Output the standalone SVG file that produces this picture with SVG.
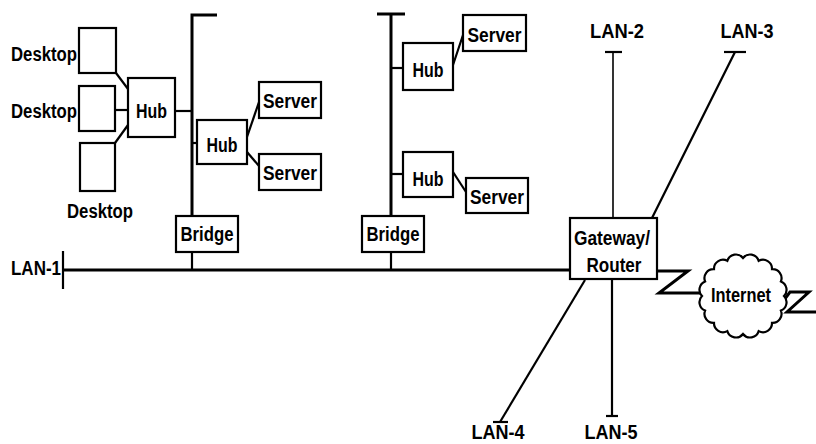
<svg xmlns="http://www.w3.org/2000/svg" width="816" height="444" viewBox="0 0 816 444">
<style>
.box{fill:#fff;stroke:#000;stroke-width:2.2}
.t{font-family:"Liberation Sans",Arial,sans-serif;font-weight:bold;font-size:20px;fill:#000;text-anchor:middle}
.bus{stroke:#000;stroke-width:3;fill:none}
.ln{stroke:#000;stroke-width:2.2;fill:none}
.thin{stroke:#000;stroke-width:1.6;fill:none}
</style>
<rect width="816" height="444" fill="#fff"/>
<g id="connectors">
  <line class="bus" x1="63" y1="270" x2="570" y2="270"/>
  <line class="ln" x1="63" y1="251" x2="63" y2="289"/>
  <polyline class="bus" points="217,15 192,15 192,216"/>
  <line class="ln" x1="192" y1="252" x2="192" y2="270"/>
  <line class="ln" x1="175" y1="111" x2="192" y2="111"/>
  <line class="ln" x1="192" y1="143" x2="197" y2="143"/>
  <line class="ln" x1="116" y1="73" x2="128" y2="89"/>
  <line class="ln" x1="115" y1="110" x2="128" y2="110"/>
  <line class="ln" x1="115" y1="143" x2="128" y2="125"/>
  <line class="ln" x1="247" y1="137" x2="259" y2="102"/>
  <line class="ln" x1="247" y1="152" x2="259" y2="166"/>
  <line class="bus" x1="377" y1="14" x2="405" y2="14"/>
  <line class="bus" x1="391" y1="14" x2="391" y2="216"/>
  <line class="ln" x1="391" y1="252" x2="391" y2="270"/>
  <line class="ln" x1="391" y1="68" x2="403" y2="68"/>
  <line class="ln" x1="391" y1="174" x2="403" y2="174"/>
  <line class="ln" x1="453" y1="65" x2="463" y2="35"/>
  <line class="ln" x1="453" y1="172" x2="466" y2="192"/>
  <line class="thin" x1="613" y1="52" x2="613" y2="218"/>
  <line class="ln" x1="605" y1="52" x2="622" y2="52"/>
  <line class="ln" x1="735" y1="52" x2="652" y2="218"/>
  <line class="ln" x1="724" y1="52" x2="746" y2="52"/>
  <line class="ln" x1="585" y1="280" x2="500" y2="422"/>
  <line class="ln" x1="493" y1="422" x2="508" y2="422"/>
  <line class="ln" x1="612" y1="280" x2="612" y2="416"/>
  <line class="ln" x1="606" y1="416" x2="618" y2="416"/>
  <polyline class="bus" points="657,271 688,271 659,293 702,293"/>
  <polyline class="bus" points="784,300 790,292 809,292 787,312 816,312"/>
</g>
<g id="desktop1"><rect class="box" x="79" y="28" width="37" height="45"/><text class="t" x="44" y="61" textLength="66" lengthAdjust="spacingAndGlyphs">Desktop</text></g>
<g id="desktop2"><rect class="box" x="79" y="86" width="36" height="45"/><text class="t" x="44" y="118" textLength="66" lengthAdjust="spacingAndGlyphs">Desktop</text></g>
<g id="desktop3"><rect class="box" x="80" y="143" width="35" height="48"/><text class="t" x="100" y="218" textLength="66" lengthAdjust="spacingAndGlyphs">Desktop</text></g>
<g id="hub1"><rect class="box" x="128" y="78" width="47" height="59"/><text class="t" x="151.5" y="118" textLength="31" lengthAdjust="spacingAndGlyphs">Hub</text></g>
<g id="hub2"><rect class="box" x="197" y="120" width="50" height="44"/><text class="t" x="222" y="152" textLength="31" lengthAdjust="spacingAndGlyphs">Hub</text></g>
<g id="server1"><rect class="box" x="259" y="82" width="62" height="36"/><text class="t" x="290" y="108" textLength="54" lengthAdjust="spacingAndGlyphs">Server</text></g>
<g id="server2"><rect class="box" x="259" y="154" width="62" height="36"/><text class="t" x="290" y="180" textLength="54" lengthAdjust="spacingAndGlyphs">Server</text></g>
<g id="bridge1"><rect class="box" x="176" y="216" width="62" height="36"/><text class="t" x="207" y="241" textLength="53" lengthAdjust="spacingAndGlyphs">Bridge</text></g>
<g id="hub3"><rect class="box" x="403" y="43" width="50" height="47"/><text class="t" x="428" y="77" textLength="31" lengthAdjust="spacingAndGlyphs">Hub</text></g>
<g id="server3"><rect class="box" x="463" y="15" width="63" height="36"/><text class="t" x="494.5" y="42" textLength="54" lengthAdjust="spacingAndGlyphs">Server</text></g>
<g id="hub4"><rect class="box" x="403" y="152" width="50" height="45"/><text class="t" x="428" y="186" textLength="31" lengthAdjust="spacingAndGlyphs">Hub</text></g>
<g id="server4"><rect class="box" x="466" y="178" width="62" height="35"/><text class="t" x="497" y="204" textLength="54" lengthAdjust="spacingAndGlyphs">Server</text></g>
<g id="bridge2"><rect class="box" x="362" y="216" width="62" height="36"/><text class="t" x="393" y="241" textLength="53" lengthAdjust="spacingAndGlyphs">Bridge</text></g>
<g id="gateway"><rect class="box" x="570" y="218" width="87" height="61"/><text class="t" x="612" y="245" textLength="76" lengthAdjust="spacingAndGlyphs">Gateway/</text><text class="t" x="614" y="272" textLength="55" lengthAdjust="spacingAndGlyphs">Router</text></g>
<g id="internet">
  <path class="box" d="M784 296 A9 9 0 0 1 780.9 310.6 A9 9 0 0 1 772 322.9 A9 9 0 0 1 758.7 331.1 A9 9 0 0 1 743 334 A9 9 0 0 1 727.3 331.1 A9 9 0 0 1 714 322.9 A9 9 0 0 1 705.1 310.6 A9 9 0 0 1 702 296 A9 9 0 0 1 705.1 281.4 A9 9 0 0 1 714 269.1 A9 9 0 0 1 727.3 260.9 A9 9 0 0 1 743 258 A9 9 0 0 1 758.7 260.9 A9 9 0 0 1 772 269.1 A9 9 0 0 1 780.9 281.4 A9 9 0 0 1 784 296 Z"/>
  <text class="t" x="741" y="302" textLength="60" lengthAdjust="spacingAndGlyphs">Internet</text>
</g>
<g id="lan-labels">
  <text class="t" x="36" y="275" textLength="50" lengthAdjust="spacingAndGlyphs">LAN-1</text>
  <text class="t" x="617" y="38" textLength="54" lengthAdjust="spacingAndGlyphs">LAN-2</text>
  <text class="t" x="747" y="38" textLength="53" lengthAdjust="spacingAndGlyphs">LAN-3</text>
  <text class="t" x="498" y="439" textLength="53" lengthAdjust="spacingAndGlyphs">LAN-4</text>
  <text class="t" x="611" y="439" textLength="53" lengthAdjust="spacingAndGlyphs">LAN-5</text>
</g>
</svg>
